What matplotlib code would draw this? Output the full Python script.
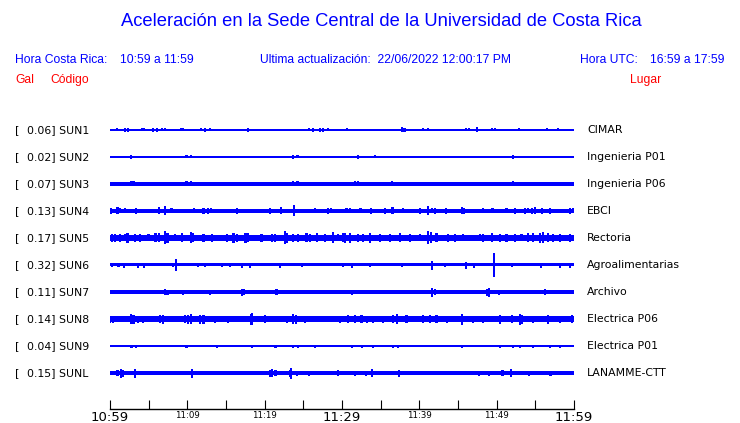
import matplotlib
matplotlib.use("Agg")
import matplotlib.pyplot as plt

W, H = 740, 423

codes = ["SUN1", "SUN2", "SUN3", "SUN4", "SUN5", "SUN6", "SUN7", "SUN8", "SUN9", "SUNL"]
gal = ["0.06", "0.02", "0.07", "0.13", "0.17", "0.32", "0.11", "0.14", "0.04", "0.15"]
places = ["CIMAR", "Ingenieria P01", "Ingenieria P06", "EBCI", "Rectoria",
          "Agroalimentarias", "Archivo", "Electrica P06", "Electrica P01", "LANAMME-CTT"]
# background (noise) half-amplitude of each trace, display units
noise = [0.6, 0.6, 1.7, 1.6, 2.9, 1.5, 1.6, 2.7, 0.6, 1.6]

# bursts: (minute after 10:59, half-amplitude)
sun1 = [(0.87, 1.5), (1.94, 2), (2.37, 2), (3.32, 1), (4.10, 1.5), (4.44, 1.5), (5.60, 2), (6.04, 2),
        (6.76, 1.5), (7.11, 1.5), (7.76, 1), (9.18, 1.5), (9.48, 1.5), (11.77, 1.5), (12.28, 2),
        (12.93, 1.5), (17.24, 1), (17.81, 2), (20.04, 1), (20.39, 1), (21.12, 1), (25.0, 1),
        (25.73, 1.5), (26.29, 2), (27.16, 2), (27.58, 2), (28.15, 1.5), (28.75, 1), (29.96, 1),
        (30.61, 1.5), (31.25, 1), (33.27, 1), (35.13, 1), (35.99, 1), (36.63, 1), (37.72, 2.5),
        (38.08, 2), (40.51, 1.5), (41.16, 1.5), (43.32, 1), (44.19, 1), (44.61, 1), (46.03, 1.5),
        (46.46, 1.5), (47.42, 2.5), (49.36, 1.5), (49.79, 1.5), (50.43, 1), (50.86, 1), (52.02, 1),
        (52.89, 1.5), (54.31, 1), (55.18, 1), (55.95, 1), (56.47, 1.5), (57.54, 1), (57.96, 1.5),
        (58.70, 1), (59.48, 1)]
sun2 = [(0.65, 1), (2.72, 2), (9.91, 1.5), (10.47, 1.5), (21.42, 1), (23.7, 2), (24.26, 1.5),
        (32.1, 2), (32.62, 1), (34.26, 1.5), (34.91, 1), (41.37, 1), (52.15, 2), (52.8, 1)]
sun3 = [(2.8, 2.5), (3.14, 2.5), (9.91, 2.5), (10.47, 2.5), (23.7, 2.5), (24.26, 2.5),
        (31.68, 2.5), (32.1, 2.5), (36.5, 2.5), (42.24, 2), (52.15, 2.5)]
sun4 = [(0.13, 3), (0.43, 2), (0.99, 3.5), (1.29, 2.5), (1.94, 2.5), (3.36, 3), (5.17, 2),
        (6.34, 3.5), (7.11, 4.5), (7.97, 2.5), (9.61, 2), (10.9, 2.5), (12.07, 3), (12.63, 3),
        (13.06, 2.5), (16.38, 3), (19.18, 2), (20.69, 3), (22.07, 3.5), (22.85, 2), (23.27, 2),
        (23.83, 5.5), (26.51, 2.5), (27.71, 2), (28.23, 3), (28.58, 2.5), (29.52, 2), (30.17, 2),
        (30.6, 2.5), (31.03, 2.5), (31.46, 2), (32.41, 2.5), (33.71, 3), (34.04, 2), (35.56, 3),
        (36.55, 3.5), (37.92, 2.5), (40.08, 3), (41.16, 4.5), (41.6, 2.5), (42.02, 3), (43.44, 3),
        (43.74, 2), (44.61, 2), (45.48, 3.5), (45.77, 3), (47.19, 2), (48.27, 2.5), (49.48, 2.5),
        (51.29, 2.5), (52.37, 3), (53.66, 3), (54.09, 2.5), (54.53, 3), (54.95, 3.5), (55.82, 3),
        (56.89, 3), (57.76, 2), (59.48, 3), (59.91, 2.5)]
sun5 = [(0.22, 4), (0.65, 4), (1.29, 4), (1.94, 3.5), (2.28, 5), (3.23, 4), (3.88, 4), (4.96, 3.5),
        (5.9, 4.5), (6.34, 4.5), (7.11, 6.5), (7.42, 5), (8.4, 3.5), (9.27, 4.5), (10.47, 5.5),
        (10.77, 4.5), (12.07, 4), (13.15, 4), (15.09, 4), (15.95, 5), (16.38, 4), (17.54, 5),
        (17.88, 4.5), (19.61, 4), (20.91, 4), (21.33, 4), (22.63, 6.5), (22.93, 5), (23.7, 4),
        (24.35, 4), (25.43, 4.5), (25.86, 4), (26.73, 4.5), (27.8, 4), (28.87, 5.5), (29.52, 3.5),
        (30.17, 4.5), (30.39, 5), (31.03, 5), (32.1, 4), (32.75, 4), (33.62, 5), (34.91, 4),
        (36.2, 4), (37.5, 4.5), (38.79, 4), (40.08, 3.5), (41.16, 6.5), (41.47, 5.5), (42.24, 4.5),
        (43.74, 4), (44.61, 4), (45.68, 3.5), (47.84, 3.5), (48.27, 4), (49.36, 4.5), (50.43, 4),
        (51.29, 4), (52.37, 4), (53.23, 3.5), (54.09, 4.5), (54.66, 4.5), (55.6, 5), (56.03, 5.5),
        (56.67, 4.5), (57.32, 4), (58.19, 4), (59.48, 4)]
sun6 = [(0.3, 2), (1.08, 2), (1.81, 2.5), (3.66, 2.5), (4.44, 2.5), (8.19, 2), (8.53, 6),
        (11.42, 2), (12.28, 1.5), (14.44, 2), (15.52, 2), (17.03, 2.5), (18.1, 2.5), (21.98, 2.5),
        (24.79, 2), (30.17, 2), (31.25, 2.5), (33.62, 2), (37.72, 2), (41.6, 4.5), (43.32, 2),
        (46.03, 3.5), (47.06, 2.5), (49.69, 12), (51.94, 2), (55.73, 2.5), (58.19, 2.5), (59.48, 2.5)]
sun7 = [(0.22, 2), (7.11, 3), (7.42, 2.5), (9.48, 2.5), (12.93, 2.5), (13.79, 2), (17.03, 3.5),
        (17.37, 3), (21.55, 3), (26.73, 2), (31.25, 2.5), (33.19, 2), (38.57, 2), (41.68, 4.5),
        (42.02, 3), (43.96, 2), (48.71, 3.5), (48.97, 4.5), (50.34, 2.5), (51.5, 2), (53.88, 2),
        (56.25, 3)]
sun8 = [(0.0, 3.5), (0.43, 3.5), (1.08, 3), (1.72, 3), (2.72, 5), (3.02, 4.5), (3.66, 3.5),
        (4.31, 3.5), (6.47, 4), (6.89, 4.5), (8.4, 3), (9.7, 4), (10.12, 4.5), (10.47, 5),
        (11.64, 4.5), (12.07, 4.5), (13.58, 3.5), (15.3, 3.5), (15.95, 3), (17.03, 3), (18.19, 5.5),
        (18.4, 6), (20.04, 4), (21.33, 3), (22.85, 3.5), (23.7, 5), (24.01, 4.5), (25.21, 3.5),
        (26.94, 3), (27.8, 3), (29.74, 3.5), (30.81, 4), (31.68, 4), (32.54, 4), (33.19, 3.5),
        (34.04, 3.5), (35.34, 3.5), (36.63, 4), (37.07, 5), (38.36, 4), (40.51, 4), (41.37, 4),
        (42.24, 4), (43.54, 3.5), (45.48, 5.5), (46.98, 3.5), (48.27, 3.5), (50.43, 4.5),
        (51.94, 4), (53.01, 5.5), (53.27, 4.5), (54.73, 3.5), (56.67, 4.5), (58.19, 3.5), (59.7, 4)]
sun9 = [(0.3, 1), (0.87, 1), (1.29, 1), (1.72, 1), (2.16, 1), (2.8, 1.5), (3.32, 1.5), (5.17, 1),
        (5.82, 1), (7.02, 1), (9.91, 1.5), (10.56, 1), (12.07, 1), (12.63, 1), (13.87, 1.5),
        (17.24, 1), (18.32, 1.5), (19.4, 1), (21.42, 1.5), (22.2, 1), (23.66, 1.5), (24.35, 1.5),
        (24.57, 1), (26.08, 1), (26.51, 1.5), (28.87, 1), (30.81, 1), (31.25, 1.5), (31.68, 1),
        (32.62, 1.5), (34.04, 1.5), (34.91, 1), (35.78, 1), (36.63, 1.5), (37.28, 1.5), (38.36, 1),
        (41.16, 1), (45.48, 1.5), (46.55, 1), (48.27, 1), (50.43, 1.5), (51.72, 1), (52.15, 1.5),
        (53.01, 1.5), (54.73, 1.5), (55.38, 1), (56.89, 1.5), (58.19, 1.5)]
sunl = [(0.99, 3), (1.38, 4.5), (1.6, 3.5), (3.23, 4.5), (4.96, 2), (7.54, 2), (8.4, 2),
        (10.56, 4.5), (14.65, 2), (17.03, 2), (20.69, 3.5), (20.99, 4), (21.42, 3), (23.27, 3.5),
        (23.4, 5.5), (24.14, 2.5), (25.0, 2), (25.73, 2.5), (29.52, 3), (31.68, 2.5), (33.1, 2.5),
        (33.92, 4), (37.41, 3.5), (47.75, 2.5), (49.0, 2.5), (50.77, 3), (51.81, 4), (54.22, 2.5),
        (56.98, 2.5)]
bursts = [sun1, sun2, sun3, sun4, sun5, sun6, sun7, sun8, sun9, sunl]

tick_minutes = [0, 5, 10, 15, 20, 25, 30, 35, 40, 45, 50, 55, 60]
tick_labels = ["10:59", "", "11:09", "", "11:19", "", "11:29", "", "11:39", "", "11:49", "", "11:59"]
big_labels = {"10:59", "11:29", "11:59"}

BLUE = "#0000ff"
RED = "#ff0000"

fig = plt.figure(figsize=(W / 100, H / 100), dpi=100)
fig.patch.set_facecolor("white")


def fx(px):
    return px / W


def fy(py):
    return 1 - py / H


# trace axes: from pixel y=103 (top) to 409 (bottom spine = time axis)
top_px, bot_px = 103, 409
ax = fig.add_axes([fx(110), fy(bot_px), fx(574) - fx(110), (bot_px - top_px) / H])
ax.set_xlim(0, 60)
ax.set_ylim(bot_px - top_px, 0)
for s in ["top", "left", "right"]:
    ax.spines[s].set_visible(False)
ax.spines["bottom"].set_linewidth(1.0)
ax.set_yticks([])
ax.set_xticks(tick_minutes)
ax.set_xticklabels(tick_labels)
ax.tick_params(axis="x", direction="in", length=6.5, width=0.8, pad=1.5, colors="black")
for lab in ax.get_xticklabels():
    if lab.get_text() in big_labels:
        lab.set_fontsize(9.5)
    else:
        lab.set_fontsize(6.2)

for i, ev in enumerate(bursts):
    c = 27 + 27 * i
    b = noise[i]
    ax.fill_between([0, 60], c - b, c + b, color=BLUE, linewidth=0, antialiased=False)
    ts = [e[0] for e in ev]
    amps = [e[1] for e in ev]
    ax.bar(ts, [2 * a for a in amps], bottom=[c - a for a in amps], width=0.3,
           color=BLUE, linewidth=0, antialiased=False)
    ypx = 130 + 27 * i
    fig.text(fx(15), fy(ypx), "[", fontsize=8, va="center", ha="left", family="DejaVu Sans")
    fig.text(fx(27), fy(ypx), f"{gal[i]}] {codes[i]}", fontsize=7.8, va="center", ha="left",
             family="DejaVu Sans")
    fig.text(fx(587), fy(ypx), places[i], fontsize=7.8, va="center", ha="left", family="DejaVu Sans")

hf = "Liberation Sans"
hs = 8.7
fig.text(fx(381), fy(22), "Aceleración en la Sede Central de la Universidad de Costa Rica",
         fontsize=13.2, color=BLUE, ha="center", va="center", family=hf)
fig.text(fx(15), fy(60), "Hora Costa Rica:", fontsize=hs, color=BLUE, va="center", family=hf)
fig.text(fx(120), fy(60), "10:59 a 11:59", fontsize=hs, color=BLUE, va="center", family=hf)
fig.text(fx(260), fy(60), "Ultima actualización:  22/06/2022 12:00:17 PM", fontsize=hs,
         color=BLUE, va="center", family=hf)
fig.text(fx(580), fy(60), "Hora UTC:", fontsize=hs, color=BLUE, va="center", family=hf)
fig.text(fx(650), fy(60), "16:59 a 17:59", fontsize=hs, color=BLUE, va="center", family=hf)
fig.text(fx(15), fy(80), "Gal", fontsize=hs, color=RED, va="center", family=hf)
fig.text(fx(50), fy(80), "Código", fontsize=hs, color=RED, va="center", family=hf)
fig.text(fx(630), fy(80), "Lugar", fontsize=hs, color=RED, va="center", family=hf)

fig.savefig("out.png", dpi=100, facecolor="white")
